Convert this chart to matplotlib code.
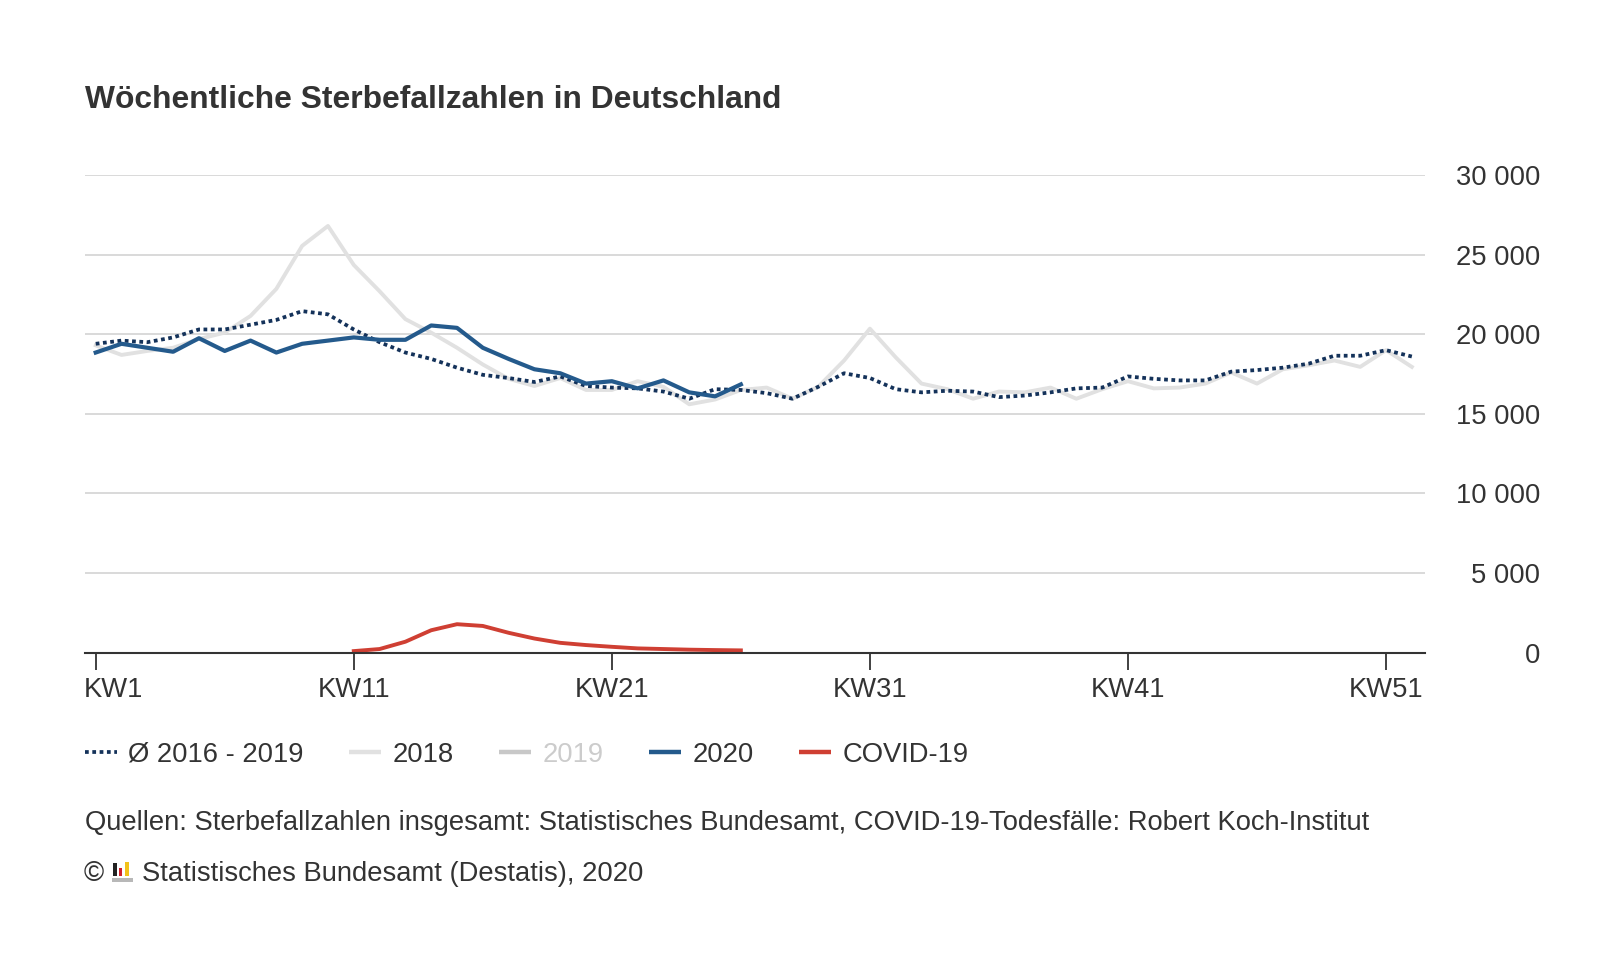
import matplotlib
matplotlib.use("Agg")
import matplotlib.pyplot as plt
from matplotlib.lines import Line2D
from matplotlib.patches import Rectangle
from matplotlib.ticker import FuncFormatter, FixedLocator
import matplotlib.transforms as mtransforms

plt.rcParams['font.family'] = ['Liberation Sans', 'DejaVu Sans']

# ---------------- data ----------------
weeks_all = list(range(1, 53))
weeks_2020 = list(range(1, 27))
weeks_covid = list(range(11, 27))

avg_2016_2019 = [19400, 19600, 19500, 19800, 20300, 20300, 20600, 20900, 21450, 21250,
                 20300, 19500, 18850, 18450, 17900, 17450, 17250, 17000, 17350, 16750,
                 16650, 16600, 16400, 15950, 16550, 16500, 16300, 15950, 16700, 17550,
                 17250, 16550, 16350, 16450, 16400, 16050, 16150, 16350, 16600, 16650,
                 17350, 17200, 17100, 17100, 17650, 17750, 17900, 18150, 18650, 18650,
                 19000, 18600]

deaths_2018 = [19300, 18700, 18950, 19150, 19700, 20100, 21150, 22850, 25550, 26800,
               24350, 22700, 20950, 20100, 19150, 18100, 17200, 16750, 17250, 16500,
               16500, 17050, 16700, 15600, 15900, 16500, 16650, 15950, 16700, 18350,
               20350, 18550, 16900, 16550, 15950, 16400, 16350, 16650, 15950, 16550,
               17050, 16600, 16650, 16900, 17600, 16900, 17800, 18050, 18350, 17950,
               19000, 17950]

deaths_2020 = [18850, 19400, 19150, 18900, 19750, 18950, 19600, 18850, 19400, 19600,
               19800, 19650, 19650, 20550, 20400, 19150, 18450, 17800, 17550, 16900,
               17050, 16600, 17100, 16350, 16100, 16850]

covid_19 = [100, 230, 690, 1410, 1790, 1680, 1250, 890, 620, 480,
            370, 270, 230, 190, 165, 145]

x_ticks = [1, 11, 21, 31, 41, 51]
x_tick_labels = ["KW1", "KW11", "KW21", "KW31", "KW41", "KW51"]
y_ticks = [0, 5000, 10000, 15000, 20000, 25000, 30000]

legend_labels = ["Ø 2016 - 2019", "2018", "2019", "2020", "COVID-19"]

title_text = "Wöchentliche Sterbefallzahlen in Deutschland"
source_text = ("Quellen: Sterbefallzahlen insgesamt: Statistisches Bundesamt, "
               "COVID-19-Todesfälle: Robert Koch-Institut")
copyright_text = "Statistisches Bundesamt (Destatis), 2020"

# ---------------- style ----------------
c_avg = "#14325a"
c_2018 = "#e1e1e1"
c_2019 = "#c8c8c8"
c_2020 = "#245a8c"
c_covid = "#cf3f33"
c_text = "#333333"
c_grid = "#cfcfcf"
fs = 19.7

W, H = 1600, 960
fig = plt.figure(figsize=(16, 9.6), dpi=100)
fig.patch.set_facecolor("white")

ax = fig.add_axes([85 / W, 1 - 652.7 / H, (1425 - 85) / W, (652.7 - 175) / H])
ax.set_xlim(0.585, 52.51)
ax.set_ylim(0, 30000)

for s in ["top", "left", "right"]:
    ax.spines[s].set_visible(False)
ax.spines["bottom"].set_color(c_text)
ax.spines["bottom"].set_linewidth(1.5)
ax.spines["bottom"].set_zorder(6)

ax.yaxis.set_major_locator(FixedLocator(y_ticks))
ax.yaxis.set_major_formatter(FuncFormatter(lambda v, p: f"{int(v):,}".replace(",", " ")))
ax.yaxis.tick_right()
ax.tick_params(axis="y", length=0, pad=82.8, labelsize=fs, labelcolor=c_text)
for lab in ax.get_yticklabels():
    lab.set_horizontalalignment("right")
ax.yaxis.grid(True, color=c_grid, linewidth=1.1)
ax.set_axisbelow(True)

ax.set_xticks(x_ticks)
ax.set_xticklabels(x_tick_labels)
ax.tick_params(axis="x", length=12.5, width=1.3, color=c_text, pad=5,
               labelsize=fs, labelcolor=c_text)
# first label justified inside the plot area
first = ax.get_xticklabels()[0]
first.set_horizontalalignment("left")
first.set_transform(first.get_transform() +
                    mtransforms.ScaledTranslation(-11.7 / 100, 0, fig.dpi_scale_trans))

ax.plot(weeks_all, deaths_2018, color=c_2018, lw=2.8, zorder=2)
ax.plot(weeks_all, avg_2016_2019, color=c_avg, lw=2.7, linestyle=(0, (1, 0.95)), zorder=3)
ax.plot(weeks_2020, deaths_2020, color=c_2020, lw=3.0, zorder=4)
ax.plot(weeks_covid, covid_19, color=c_covid, lw=2.8, zorder=5)

# ---------------- texts ----------------
fig.text(85 / W, 1 - 108.5 / H, title_text, fontsize=22.9, fontweight="bold",
         color=c_text, va="baseline", ha="left")

handles = [
    Line2D([], [], color=c_avg, lw=2.7, linestyle=(0, (1, 0.95))),
    Line2D([], [], color=c_2018, lw=3.2, solid_capstyle="butt"),
    Line2D([], [], color=c_2019, lw=3.2, solid_capstyle="butt"),
    Line2D([], [], color=c_2020, lw=3.2, solid_capstyle="butt"),
    Line2D([], [], color=c_covid, lw=3.2, solid_capstyle="butt"),
]
leg = fig.legend(handles, legend_labels, loc="center left",
                 bbox_to_anchor=(84.7 / W, 1 - 755 / H), ncol=5, frameon=False,
                 fontsize=fs, handlelength=1.17, handletextpad=0.42,
                 columnspacing=1.66, borderpad=0, borderaxespad=0)
for i, t in enumerate(leg.get_texts()):
    t.set_color("#cccccc" if i == 2 else c_text)

fig.text(85 / W, 1 - 830 / H, source_text, fontsize=fs, color=c_text,
         va="baseline", ha="left")
fig.text(84 / W, 1 - 881 / H, "©", fontsize=fs, color=c_text,
         va="baseline", ha="left")
fig.text(142 / W, 1 - 881 / H, copyright_text, fontsize=fs, color=c_text,
         va="baseline", ha="left")

def frect(x0, y0, x1, y1, color):
    fig.add_artist(Rectangle((x0 / W, 1 - y1 / H), (x1 - x0) / W, (y1 - y0) / H,
                             transform=fig.transFigure, color=color, lw=0))

frect(113.3, 863.3, 116.6, 876, "#222222")
frect(118.6, 868.3, 121.9, 876, "#d0202a")
frect(125.4, 861.7, 128.9, 876, "#f2c21b")
frect(112.3, 878.3, 133.3, 882.3, "#b8b8b8")

fig.savefig("out.png", dpi=100, facecolor="white")
